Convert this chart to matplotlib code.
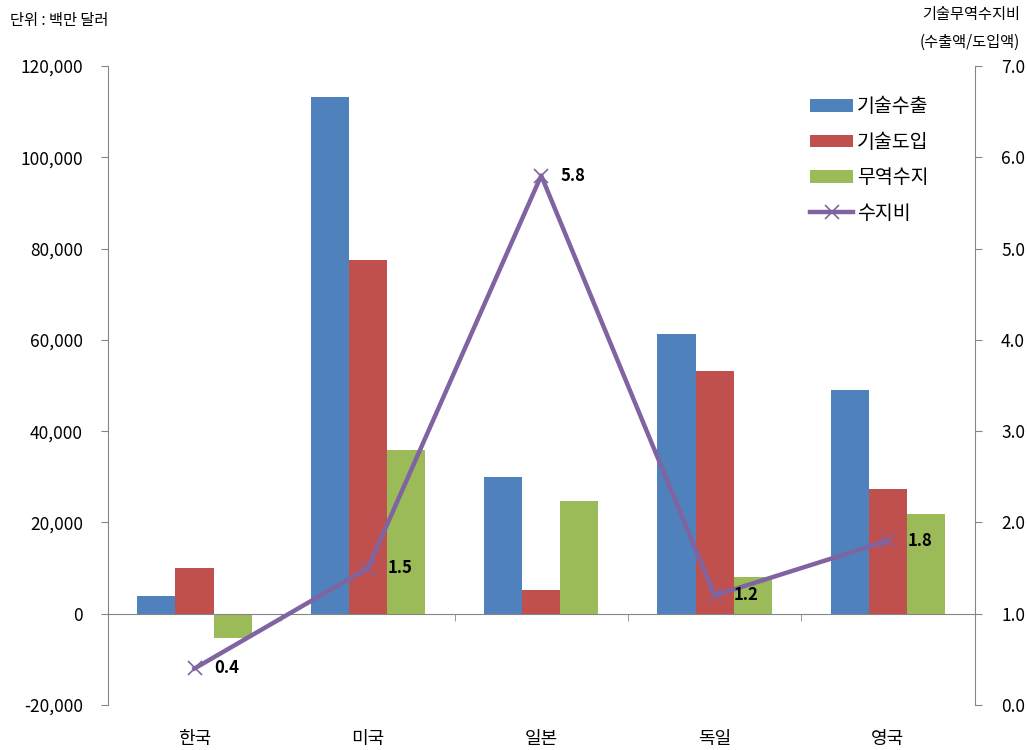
import matplotlib
matplotlib.use('Agg')
import matplotlib.pyplot as plt
import numpy as np
from matplotlib.ticker import FuncFormatter, FixedLocator

plt.rcParams['font.family'] = ['Noto Sans CJK KR', 'DejaVu Sans']

# 국가별 기술무역 (단위: 백만 달러)
countries = ['한국', '미국', '일본', '독일', '영국']
tech_export = [3900, 113300, 29900, 61200, 49100]
tech_import = [10000, 77500, 5200, 53200, 27300]
trade_balance = [-5400, 35800, 24800, 8000, 21800]
ratio = [0.4, 1.5, 5.8, 1.2, 1.8]

names = ['기술수출', '기술도입', '무역수지', '수지비']
colors = ['#4F81BD', '#C0504D', '#9BBB59', '#8064A2']
axis_gray = '#868686'

fig = plt.figure(figsize=(10.27, 7.5), dpi=100)
ax = fig.add_axes([0.105, 0.06, 0.844, 0.852])

x = np.arange(len(countries))
w = 0.22
ax.bar(x - w, tech_export, w, color=colors[0], label=names[0])
ax.bar(x, tech_import, w, color=colors[1], label=names[1])
ax.bar(x + w, trade_balance, w, color=colors[2], label=names[2])

ax.set_xlim(-0.5, len(countries) - 0.5)
ax.set_ylim(-20000, 120000)
ax.set_yticks(np.arange(-20000, 120001, 20000))
ax.yaxis.set_major_formatter(FuncFormatter(lambda v, p: f'{int(v):,}'))
ax.tick_params(axis='y', direction='out', length=5, color=axis_gray,
               labelsize=12.5, pad=13)

# 가로축은 0 위치에, 항목 경계에 눈금
ax.spines['bottom'].set_position(('data', 0))
ax.spines['bottom'].set_color(axis_gray)
ax.spines['left'].set_color(axis_gray)
ax.spines['top'].set_visible(False)
ax.spines['right'].set_visible(False)
ax.set_xticks([])
ax.xaxis.set_minor_locator(FixedLocator(x[:-1] + 0.5))
ax.tick_params(axis='x', which='minor', direction='out', length=5,
               color=axis_gray)

sec = ax.secondary_xaxis('bottom')
sec.set_xticks(x, labels=countries)
sec.tick_params(length=0, labelsize=13, pad=18)
sec.spines['bottom'].set_visible(False)

# 수지비 (오른쪽 축)
ax2 = ax.twinx()
ax2.plot(x, ratio, color=colors[3], lw=3.2, marker='x', markersize=10,
         markeredgewidth=1.2, label=names[3])
for xi, r in zip(x, ratio):
    ax2.annotate(f'{r:.1f}', (xi, r), xytext=(14, 0), textcoords='offset points',
                 ha='left', va='center', fontsize=12, fontweight='bold')
ax2.set_ylim(0, 7)
ax2.set_yticks(np.arange(0, 7.01, 1))
ax2.yaxis.set_major_formatter(FuncFormatter(lambda v, p: f'{v:.1f}'))
ax2.tick_params(axis='y', direction='out', length=5, color=axis_gray,
                labelsize=12.5, pad=14)
for s in ['top', 'left', 'bottom']:
    ax2.spines[s].set_visible(False)
ax2.spines['right'].set_color(axis_gray)

h1, l1 = ax.get_legend_handles_labels()
h2, l2 = ax2.get_legend_handles_labels()
ax2.legend(h1 + h2, l1 + l2, loc='upper left', bbox_to_anchor=(0.772, 0.895),
           bbox_transform=fig.transFigure, frameon=False, fontsize=14,
           handlelength=2.2, handleheight=0.6, handletextpad=0.2,
           labelspacing=0.75)

fig.text(0.01, 0.972, '단위 : 백만 달러', fontsize=11, va='center')
fig.text(0.993, 0.98, '기술무역수지비', fontsize=11, ha='right', va='center')
fig.text(0.993, 0.944, '(수출액/도입액)', fontsize=11, ha='right', va='center')

fig.savefig('out.png', dpi=100)
